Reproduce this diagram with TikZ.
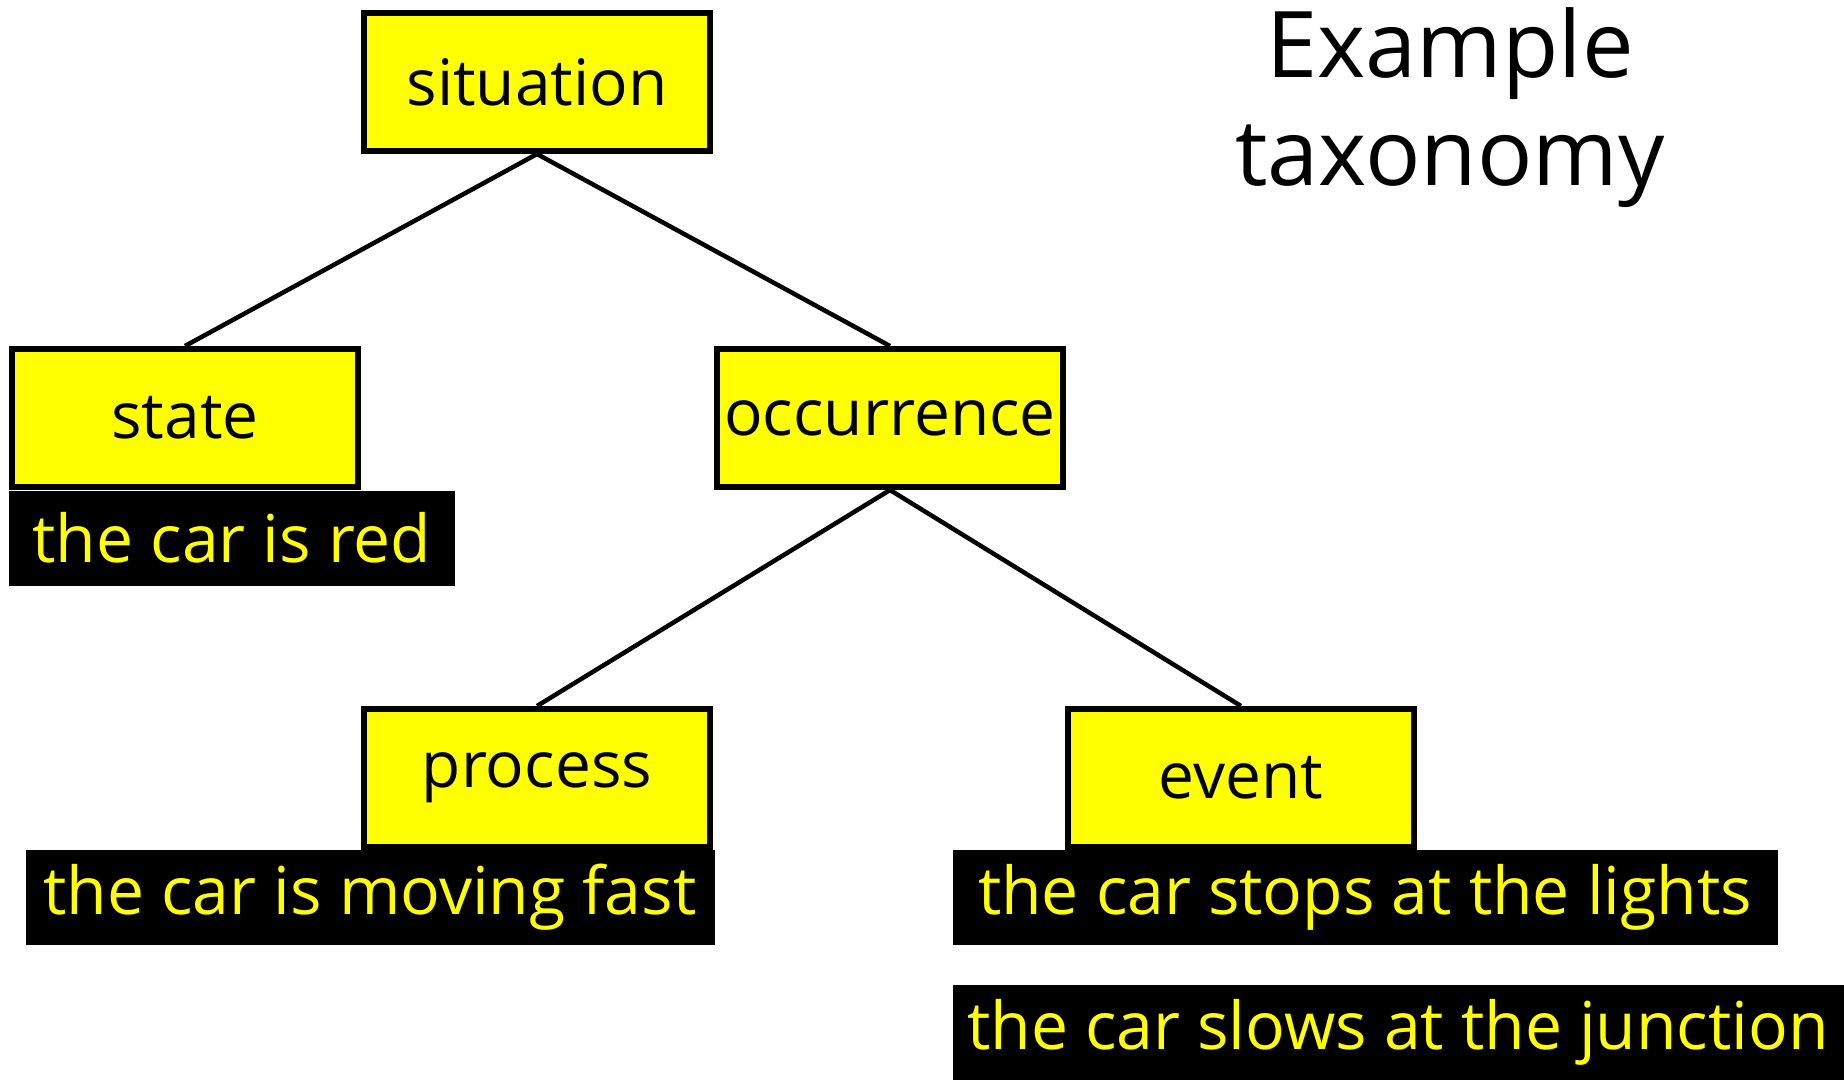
\documentclass[tikz,border=0pt]{standalone}
\usepackage{fontspec}
\setmainfont{Open Sans}
\usetikzlibrary{positioning}
\definecolor{boxyellow}{RGB}{255,255,0}

\tikzset{
  concept/.style={draw=black, line width=6pt, fill=boxyellow, minimum width=346pt,
    minimum height=138pt, inner sep=0pt, font=\fontsize{64}{70}\selectfont},
  instance/.style={fill=black, text=boxyellow, minimum height=95pt, inner sep=0pt,
    font=\fontsize{66}{72}\selectfont},
  link/.style={line width=4.5pt}
}

\begin{document}
\begin{tikzpicture}[x=1pt,y=-1pt]
\useasboundingbox (0,0) rectangle (1844,1080);
% taxonomy boxes
\node[concept] (situation) at (537,82) {situation};
\node[concept] (state) at (185,418) {state};
\node[concept] (occurrence) at (890,418) {occurrence};
\node[concept] (process) at (537,778) {process};
\node[concept] (event) at (1241,778) {event};
% examples
\node[instance, minimum width=446pt] (red) at (232,538) {the car is red};
\node[instance, minimum width=689pt] (fast) at (370,897) {the car is moving fast};
\node[instance, minimum width=825pt] (lights) at (1365,897) {the car stops at the lights};
\node[instance, minimum width=891pt] (junction) at (1398,1032) {the car slows at the junction};
\node[align=center, font=\fontsize{92}{108}\selectfont] (title) at (1450,108) {Example\\taxonomy};
% links
\draw[link] (situation.south) -- (state.north);
\draw[link] (situation.south) -- (occurrence.north);
\draw[link] (occurrence.south) -- (process.north);
\draw[link] (occurrence.south) -- (event.north);
\end{tikzpicture}
\end{document}
